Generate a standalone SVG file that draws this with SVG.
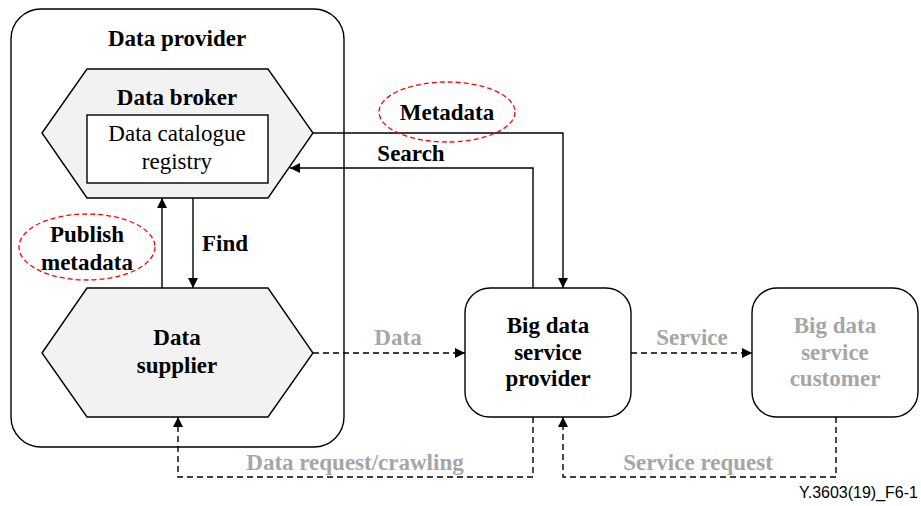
<svg xmlns="http://www.w3.org/2000/svg" width="921" height="506" viewBox="0 0 921 506">
<defs>
<marker id="ah" viewBox="0 0 10 10" refX="10" refY="5" markerWidth="10" markerHeight="10" markerUnits="userSpaceOnUse" orient="auto">
<path d="M0,0 L10,5 L0,10 z" fill="#000"/>
</marker>
<style>
.b{font-family:"Liberation Serif","Times New Roman",serif;font-weight:bold;font-size:23px;text-anchor:middle;fill:#000}
.r{font-family:"Liberation Serif","Times New Roman",serif;font-size:23px;text-anchor:middle;fill:#000}
.g{fill:#a6a6a6}
.ln{fill:none;stroke:#000;stroke-width:1.4}
.ds{fill:none;stroke:#000;stroke-width:1.4;stroke-dasharray:6,4}
.hex{fill:#f2f2f2;stroke:#000;stroke-width:1.4}
.box{fill:#fff;stroke:#000;stroke-width:1.4}
.ell{fill:none;stroke:#ff0000;stroke-width:1.3;stroke-dasharray:5,3}
</style>
</defs>
<rect width="921" height="506" fill="#fff"/>
<g id="data-provider">
<rect x="11" y="9" width="333" height="438" rx="30" class="box"/>
<text x="177" y="46" class="b">Data provider</text>
</g>
<g id="data-broker">
<polygon points="42,133 87,69 268,69 313,133 268,198 87,198" class="hex"/>
<text x="177" y="105" class="b">Data broker</text>
<rect x="87" y="115" width="181" height="68" class="box"/>
<text x="177" y="141" class="r">Data catalogue</text>
<text x="177" y="169" class="r">registry</text>
</g>
<g id="data-supplier">
<polygon points="42,353 87,288 268,288 313,353 268,417 87,417" class="hex"/>
<text x="177" y="345" class="b">Data</text>
<text x="177" y="373" class="b">supplier</text>
</g>
<g id="bdsp">
<rect x="465" y="288" width="166" height="129" rx="25" class="box"/>
<text x="548" y="333" class="b">Big data</text>
<text x="548" y="360" class="b">service</text>
<text x="548" y="386" class="b">provider</text>
</g>
<g id="bdsc">
<rect x="752" y="288" width="166" height="129" rx="25" class="box"/>
<text x="835" y="333" class="b g">Big data</text>
<text x="835" y="360" class="b g">service</text>
<text x="835" y="386" class="b g">customer</text>
</g>
<g id="connectors">
<path d="M162,288 V198" class="ln" marker-end="url(#ah)"/>
<path d="M193,198 V288" class="ln" marker-end="url(#ah)"/>
<path d="M313,133 H563 V288" class="ln" marker-end="url(#ah)"/>
<path d="M533,288 V168 H290" class="ln" marker-end="url(#ah)"/>
<path d="M313,353 H465" class="ds" marker-end="url(#ah)"/>
<path d="M631,353 H752" class="ds" marker-end="url(#ah)"/>
<path d="M533,417 V477 H178 V417" class="ds" marker-end="url(#ah)"/>
<path d="M836,417 V477 H563 V417" class="ds" marker-end="url(#ah)"/>
</g>
<g id="labels">
<ellipse cx="87" cy="247" rx="68" ry="33" class="ell"/>
<text x="87" y="242" class="b">Publish</text>
<text x="87" y="270" class="b">metadata</text>
<text x="225" y="251" class="b">Find</text>
<ellipse cx="447" cy="112" rx="68" ry="30" class="ell"/>
<text x="447" y="120" class="b">Metadata</text>
<text x="411" y="161" class="b">Search</text>
<text x="398" y="345" class="b g">Data</text>
<text x="692" y="345" class="b g">Service</text>
<text x="355" y="470" class="b g">Data request/crawling</text>
<text x="698" y="470" class="b g">Service request</text>
<text x="918" y="498" font-family="Liberation Sans, Arial, sans-serif" font-size="16" text-anchor="end" fill="#000">Y.3603(19)_F6-1</text>
</g>
</svg>
